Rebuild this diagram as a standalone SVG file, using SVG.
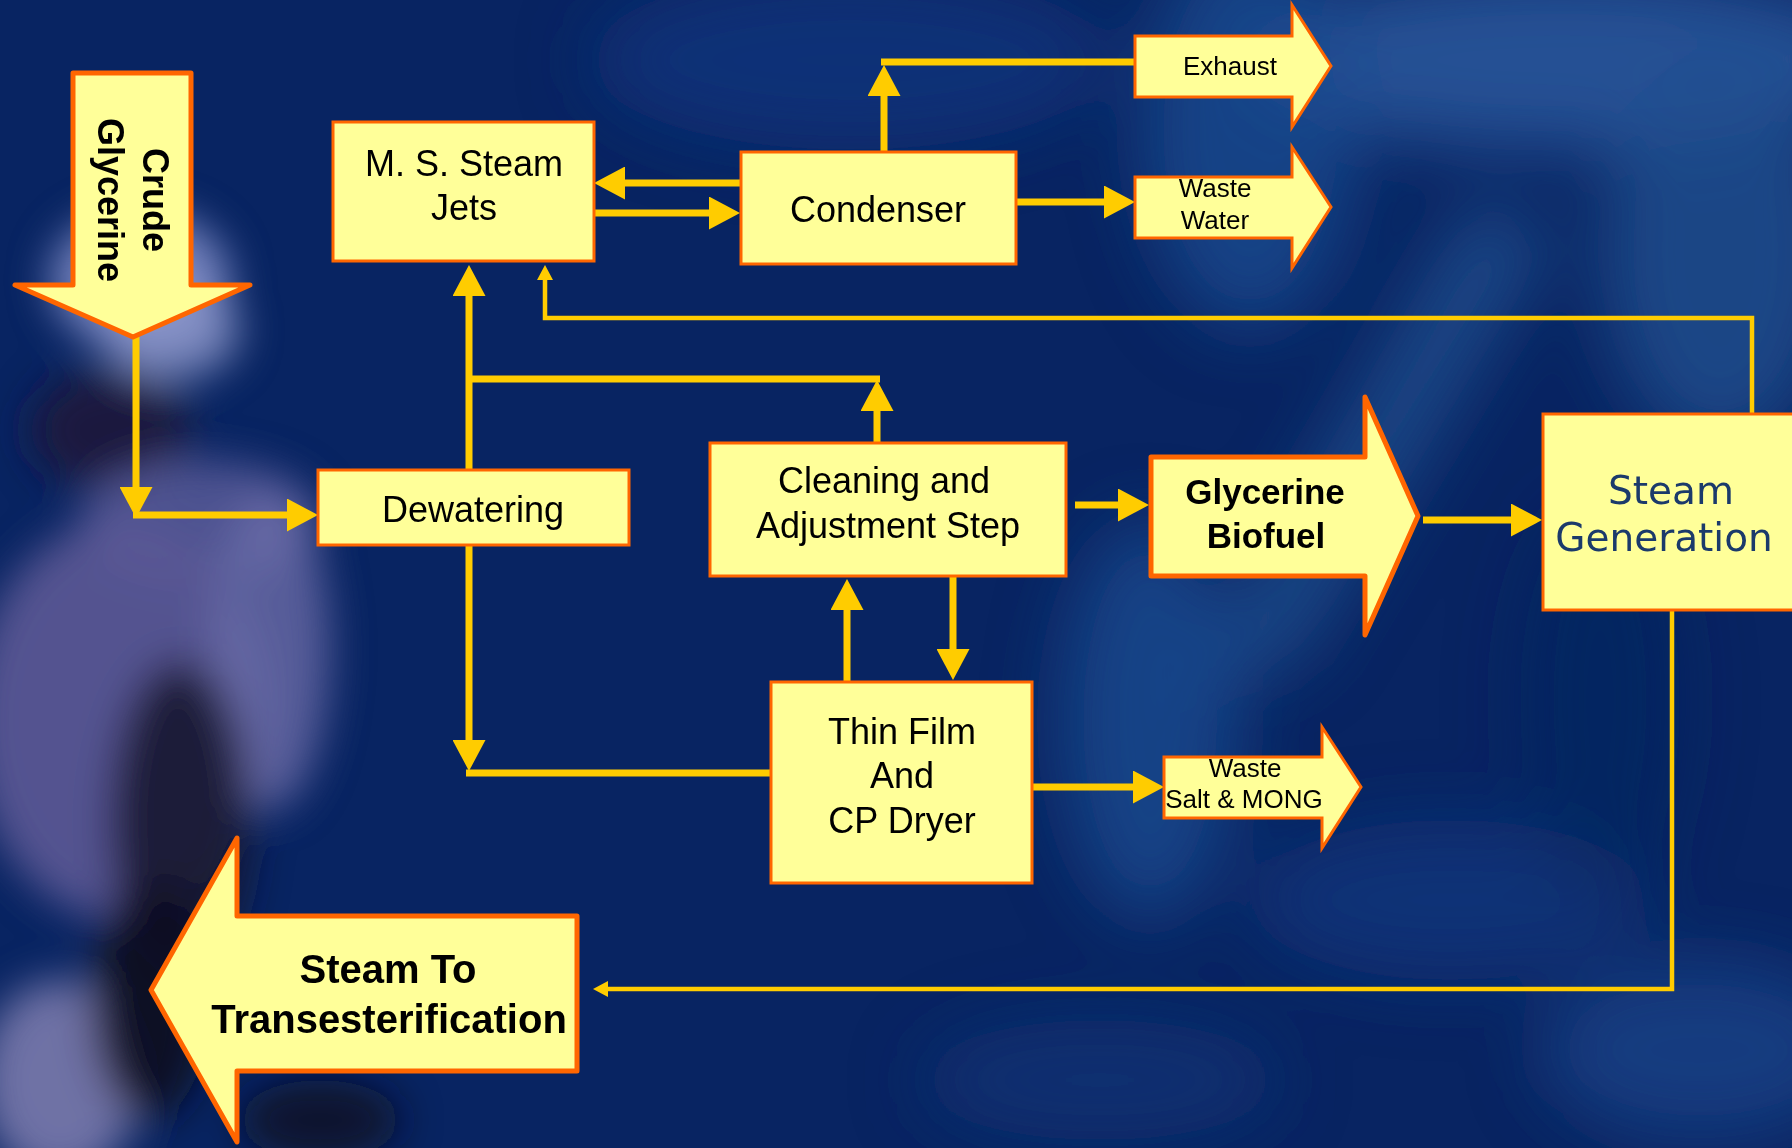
<svg xmlns="http://www.w3.org/2000/svg" width="1792" height="1148" viewBox="0 0 1792 1148">
<style>
.box{fill:#FFFF99;stroke:#FF6600;stroke-width:3}
.big{fill:#FFFF99;stroke:#FF6600;stroke-width:5;stroke-linejoin:round}
.out{fill:#FFFF99;stroke:#FF6600;stroke-width:3}
.ln{fill:none;stroke:#FFCC00;stroke-width:7}
.thin{fill:none;stroke:#FFCC00;stroke-width:4.5}
.t{font-family:"Liberation Sans",Arial,sans-serif;fill:#000;text-anchor:middle}
.m{font-size:36px}
.s{font-size:26px}
.b{font-weight:bold}
.sg{font-family:"DejaVu Sans",Verdana,sans-serif;font-size:39px;fill:#1B3A6B;text-anchor:middle}
</style>
<defs>
<marker id="ah" markerUnits="userSpaceOnUse" markerWidth="32" markerHeight="33" viewBox="0 0 32 33" refX="1" refY="16.5" orient="auto">
<path d="M0,0 L31,16.5 L0,33 z" fill="#FFCC00"/>
</marker>
<marker id="as" markerUnits="userSpaceOnUse" markerWidth="16" markerHeight="16" viewBox="0 0 16 16" refX="1" refY="8" orient="auto">
<path d="M0,0 L15,8 L0,16 z" fill="#FFCC00"/>
</marker>
<filter id="blur" x="-50%" y="-50%" width="200%" height="200%"><feGaussianBlur stdDeviation="35"/></filter>
<filter id="blur2" x="-50%" y="-50%" width="200%" height="200%"><feGaussianBlur stdDeviation="20"/></filter>
</defs>

<g id="background">
<rect x="0" y="0" width="1792" height="1148" fill="#082462"/>
<g filter="url(#blur)">
<ellipse cx="850" cy="60" rx="260" ry="90" fill="#0E347C" opacity="0.8"/>
<ellipse cx="1560" cy="60" rx="320" ry="90" fill="#28559A" opacity="0.9"/>
<ellipse cx="1250" cy="130" rx="110" ry="200" fill="#1D4A8F" opacity="0.8"/>
<ellipse cx="1720" cy="250" rx="120" ry="200" fill="#22508F" opacity="0.8"/>
<path d="M1180,700 L1300,660 L1560,230 L1470,200 Z" fill="#21508F" opacity="0.8"/>
<ellipse cx="1150" cy="720" rx="90" ry="200" fill="#1C4A8E" opacity="0.8"/>
<ellipse cx="1450" cy="900" rx="200" ry="80" fill="#13397F" opacity="0.7"/>
<ellipse cx="1700" cy="1050" rx="160" ry="90" fill="#1C478C" opacity="0.7"/>
<ellipse cx="1100" cy="1080" rx="180" ry="60" fill="#11357A" opacity="0.6"/>
<ellipse cx="1600" cy="700" rx="80" ry="200" fill="#0A265F" opacity="0.6"/>
</g>
<g filter="url(#blur2)">
<ellipse cx="140" cy="280" rx="90" ry="70" fill="#7F8CC6" opacity="0.9"/>
<ellipse cx="170" cy="330" rx="70" ry="50" fill="#8E99CC" opacity="0.8"/>
<ellipse cx="110" cy="430" rx="80" ry="60" fill="#1E1B3C" opacity="0.9"/>
<ellipse cx="200" cy="520" rx="120" ry="60" fill="#5F5F9C" opacity="0.8"/>
<ellipse cx="120" cy="720" rx="150" ry="200" fill="#5C5A96" opacity="0.9"/>
<ellipse cx="270" cy="650" rx="60" ry="160" fill="#6A6CA8" opacity="0.8"/>
<ellipse cx="180" cy="820" rx="70" ry="160" fill="#16152F" opacity="0.9"/>
<ellipse cx="60" cy="1080" rx="80" ry="100" fill="#8A86B6" opacity="0.8"/>
<ellipse cx="150" cy="1000" rx="60" ry="120" fill="#0D0D1E" opacity="0.9"/>
<ellipse cx="320" cy="1120" rx="80" ry="40" fill="#0E0E22" opacity="0.8"/>
</g>
</g>

<g id="connectors">
<path class="ln" d="M136,337 V488" marker-end="url(#ah)"/>
<path class="ln" d="M133,515 H288" marker-end="url(#ah)"/>
<path class="ln" d="M469,470 V295" marker-end="url(#ah)"/>
<path class="ln" d="M469,379 H880"/>
<path class="ln" d="M877,443 V410" marker-end="url(#ah)"/>
<path class="ln" d="M469,546 V741" marker-end="url(#ah)"/>
<path class="ln" d="M771,773 H466"/>
<path class="ln" d="M741,183 H624" marker-end="url(#ah)"/>
<path class="ln" d="M594,213 H710" marker-end="url(#ah)"/>
<path class="ln" d="M884,156 V95" marker-end="url(#ah)"/>
<path class="ln" d="M881,62 H1136"/>
<path class="ln" d="M1016,202 H1105" marker-end="url(#ah)"/>
<path class="ln" d="M1075,505 H1119" marker-end="url(#ah)"/>
<path class="ln" d="M1423,520 H1512" marker-end="url(#ah)"/>
<path class="ln" d="M847,682 V609" marker-end="url(#ah)"/>
<path class="ln" d="M953,576 V650" marker-end="url(#ah)"/>
<path class="ln" d="M1032,787 H1134" marker-end="url(#ah)"/>
<path class="thin" d="M1752,414 V318 H545 V279" marker-end="url(#as)"/>
<path class="thin" d="M1672,610 V989 H607" marker-end="url(#as)"/>
</g>

<g id="crude-glycerine">
<polygon class="big" points="73,73 191,73 191,285 250,285 133,337 15,285 73,285"/>
<g transform="translate(132,200) rotate(90)">
<text class="t b" x="0" y="-11" font-size="36">Crude</text>
<text class="t b" x="0" y="34" font-size="36">Glycerine</text>
</g>
</g>

<g id="ms-steam-jets">
<rect class="box" x="333" y="122" width="261" height="139"/>
<text class="t m" x="464" y="176">M. S. Steam</text>
<text class="t m" x="464" y="220">Jets</text>
</g>

<g id="condenser">
<rect class="box" x="741" y="152" width="275" height="112"/>
<text class="t m" x="878" y="222">Condenser</text>
</g>

<g id="exhaust">
<polygon class="out" points="1135,36 1292,36 1292,5 1331,66 1292,127 1292,97 1135,97"/>
<text class="t s" x="1230" y="75">Exhaust</text>
</g>

<g id="waste-water">
<polygon class="out" points="1135,177 1292,177 1292,147 1331,207 1292,268 1292,238 1135,238"/>
<text class="t s" x="1215" y="197">Waste</text>
<text class="t s" x="1215" y="229">Water</text>
</g>

<g id="dewatering">
<rect class="box" x="318" y="470" width="311" height="75"/>
<text class="t m" x="473" y="522">Dewatering</text>
</g>

<g id="cleaning">
<rect class="box" x="710" y="443" width="356" height="133"/>
<text class="t m" x="884" y="493">Cleaning and</text>
<text class="t m" x="888" y="538">Adjustment Step</text>
</g>

<g id="glycerine-biofuel">
<polygon class="big" points="1151,457 1365,457 1365,397 1418,516 1365,635 1365,576 1151,576"/>
<text class="t b" x="1265" y="504" font-size="35">Glycerine</text>
<text class="t b" x="1266" y="548" font-size="35">Biofuel</text>
</g>

<g id="steam-generation">
<rect class="box" x="1543" y="414" width="260" height="196"/>
<text class="sg" x="1671" y="504">Steam</text>
<text class="sg" x="1664" y="551">Generation</text>
</g>

<g id="thin-film">
<rect class="box" x="771" y="682" width="261" height="201"/>
<text class="t m" x="902" y="744">Thin Film</text>
<text class="t m" x="902" y="788">And</text>
<text class="t m" x="902" y="833">CP Dryer</text>
</g>

<g id="waste-salt">
<polygon class="out" points="1164,757 1322,757 1322,727 1361,787 1322,848 1322,818 1164,818"/>
<text class="t s" x="1245" y="777">Waste</text>
<text class="t s" x="1244" y="808">Salt &amp; MONG</text>
</g>

<g id="steam-to-trans">
<polygon class="big" points="577,916 237,916 237,838 151,990 237,1142 237,1071 577,1071"/>
<text class="t b" x="388" y="983" font-size="40">Steam To</text>
<text class="t b" x="389" y="1033" font-size="40">Transesterification</text>
</g>
</svg>
